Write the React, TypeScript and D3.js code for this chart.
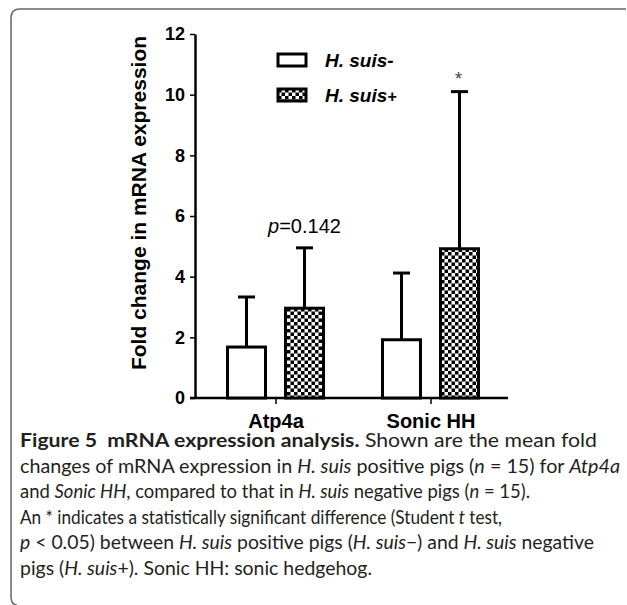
import React, { useEffect, useRef } from 'react'
import * as d3 from 'd3'

// values
const categories = ['Atp4a', 'Sonic HH']
const seriesNames = ['H. suis-', 'H. suis+']
const meanNeg = [1.68, 1.92]
const meanPos = [2.96, 4.92]
const sdNeg = [1.65, 2.2]
const sdPos = [1.99, 5.18]
const yTicks = [0, 2, 4, 6, 8, 10, 12]
const annotations = [
  { cat: 'Atp4a', series: 'H. suis+', label: 'p=0.142' },
  { cat: 'Sonic HH', series: 'H. suis+', label: '*' },
]

const W = 627
const H = 605
const axisFont = '"Liberation Sans", Arial, sans-serif'
const capFont = 'Lato, "Noto Sans", sans-serif'

export default function App() {
  const yAxisRef = useRef<SVGGElement>(null)
  const xAxisRef = useRef<SVGGElement>(null)

  const margin = { top: 34, left: 195, right: 508, bottom: 398 }

  const y = d3.scaleLinear().domain([0, 12]).range([margin.bottom, margin.top])
  const x0 = d3.scalePoint<string>().domain(categories).range([198, 508]).padding(0.5)
  const x1 = d3.scaleBand<string>().domain(seriesNames).range([-48, 48]).paddingInner(0.345)

  const bars: { cat: string; series: string; mean: number; sd: number }[] = []
  categories.forEach((c, i) => {
    bars.push({ cat: c, series: seriesNames[0], mean: meanNeg[i], sd: sdNeg[i] })
    bars.push({ cat: c, series: seriesNames[1], mean: meanPos[i], sd: sdPos[i] })
  })

  useEffect(() => {
    const ya = d3.select(yAxisRef.current)
    ya.call(d3.axisLeft(y).tickValues(yTicks).tickSize(5).tickSizeOuter(0).tickPadding(5) as any)
    ya.attr('font-family', axisFont).attr('font-size', 18).attr('font-weight', 'bold')
    ya.select('.domain').attr('stroke-width', 2.5)
    ya.selectAll('.tick line').attr('stroke-width', 1.5)
    ya.selectAll('.tick text').attr('fill', '#000')

    const xa = d3.select(xAxisRef.current)
    xa.call(d3.axisBottom(x0).tickSize(6).tickSizeOuter(0).tickPadding(10) as any)
    xa.attr('font-family', axisFont).attr('font-size', 20).attr('font-weight', 'bold')
    xa.select('.domain').remove()
    xa.selectAll('.tick line').attr('stroke-width', 1.5)
    xa.selectAll('.tick text').attr('fill', '#000')
  }, [])

  const it = { fontStyle: 'italic' as const }
  const lineProps = (yy: number, len: number) => ({
    x: 20,
    y: yy,
    textLength: len,
    lengthAdjust: 'spacingAndGlyphs' as const,
  })

  return (
    <svg width={W} height={H} style={{ position: 'absolute', left: 0, top: 0, background: '#fff' }}>
      <defs>
        <pattern id="checker" width={7} height={7} patternUnits="userSpaceOnUse">
          <rect width={7} height={7} fill="#fff" />
          <rect width={3.5} height={3.5} fill="#000" />
          <rect x={3.5} y={3.5} width={3.5} height={3.5} fill="#000" />
        </pattern>
      </defs>

      {/* frame */}
      <path d="M626,9 L20,9 Q11,9 11,18 L11,596 Q11,605 17,605" fill="none" stroke="#666" strokeWidth={1.5} />

      {/* y axis title */}
      <text
        transform={`translate(146,203) rotate(-90)`}
        textAnchor="middle"
        fontFamily={axisFont}
        fontWeight="bold"
        fontSize={21}
      >
        Fold change in mRNA expression
      </text>

      <g ref={yAxisRef} transform={`translate(${margin.left},0)`} />
      <g ref={xAxisRef} transform={`translate(0,${margin.bottom})`} />
      <line x1={190} x2={margin.right} y1={margin.bottom} y2={margin.bottom} stroke="#000" strokeWidth={2.5} />

      {/* error bars */}
      {bars.map((b, i) => {
        const cx = x0(b.cat)! + x1(b.series)! + x1.bandwidth() / 2
        return (
          <g key={'e' + i} stroke="#000" strokeWidth={3}>
            <line x1={cx} x2={cx} y1={y(b.mean)} y2={y(b.mean + b.sd)} />
            <line x1={cx - 8.5} x2={cx + 8.5} y1={y(b.mean + b.sd)} y2={y(b.mean + b.sd)} />
          </g>
        )
      })}

      {/* bars */}
      {bars.map((b, i) => (
        <rect
          key={'b' + i}
          x={x0(b.cat)! + x1(b.series)!}
          y={y(b.mean)}
          width={x1.bandwidth()}
          height={y(0) - y(b.mean)}
          fill={b.series === seriesNames[0] ? '#fff' : 'url(#checker)'}
          stroke="#000"
          strokeWidth={3}
        />
      ))}

      {/* annotations */}
      {annotations.map((a, i) => {
        const b = bars.find(d => d.cat === a.cat && d.series === a.series)!
        const cx = x0(a.cat)! + x1(a.series)! + x1.bandwidth() / 2
        const top = y(b.mean + b.sd)
        if (a.label === '*') {
          return (
            <text key={'a' + i} x={cx - 1} y={top - 7} textAnchor="middle" fontFamily={axisFont} fontSize={18} fill="#444">
              *
            </text>
          )
        }
        return (
          <text key={'a' + i} x={cx} y={top - 15} textAnchor="middle" fontFamily={axisFont} fontSize={20}>
            <tspan fontStyle="italic">p</tspan>
            {a.label.slice(1)}
          </text>
        )
      })}

      {/* legend */}
      {seriesNames.map((s, i) => (
        <g key={'l' + i} transform={`translate(278,${54 + i * 35})`}>
          <rect width={28} height={12} fill={i === 0 ? '#fff' : 'url(#checker)'} stroke="#000" strokeWidth={3} />
          <text x={47} y={13} fontFamily={axisFont} fontWeight="bold" fontStyle="italic" fontSize={19}>
            {s.slice(0, -1)}
            <tspan fontSize={i === 0 ? 19 : 16}>{s.slice(-1)}</tspan>
          </text>
        </g>
      ))}

      {/* caption */}
      <g fontFamily={capFont} fontSize={18.5} fill="#231f20">
        <text {...lineProps(447, 577)} xmlSpace="preserve">
          <tspan fontWeight="bold">Figure 5  mRNA expression analysis.</tspan> Shown are the mean fold
        </text>
        <text {...lineProps(473, 600)}>
          changes of mRNA expression in <tspan {...it}>H. suis</tspan> positive pigs (<tspan {...it}>n</tspan> = 15) for{' '}
          <tspan {...it}>Atp4a</tspan>
        </text>
        <text {...lineProps(498, 510)}>
          and <tspan {...it}>Sonic HH</tspan>, compared to that in <tspan {...it}>H. suis</tspan> negative pigs (
          <tspan {...it}>n</tspan> = 15).
        </text>
        <text {...lineProps(524, 482)}>
          An * indicates a statistically significant difference (Student <tspan {...it}>t</tspan> test,
        </text>
        <text {...lineProps(549, 574)}>
          <tspan {...it}>p</tspan> &lt; 0.05) between <tspan {...it}>H. suis</tspan> positive pigs (
          <tspan {...it}>H. suis</tspan>−) and <tspan {...it}>H. suis</tspan> negative
        </text>
        <text {...lineProps(575, 352)}>
          pigs (<tspan {...it}>H. suis</tspan>+). Sonic HH: sonic hedgehog.
        </text>
      </g>
    </svg>
  )
}
